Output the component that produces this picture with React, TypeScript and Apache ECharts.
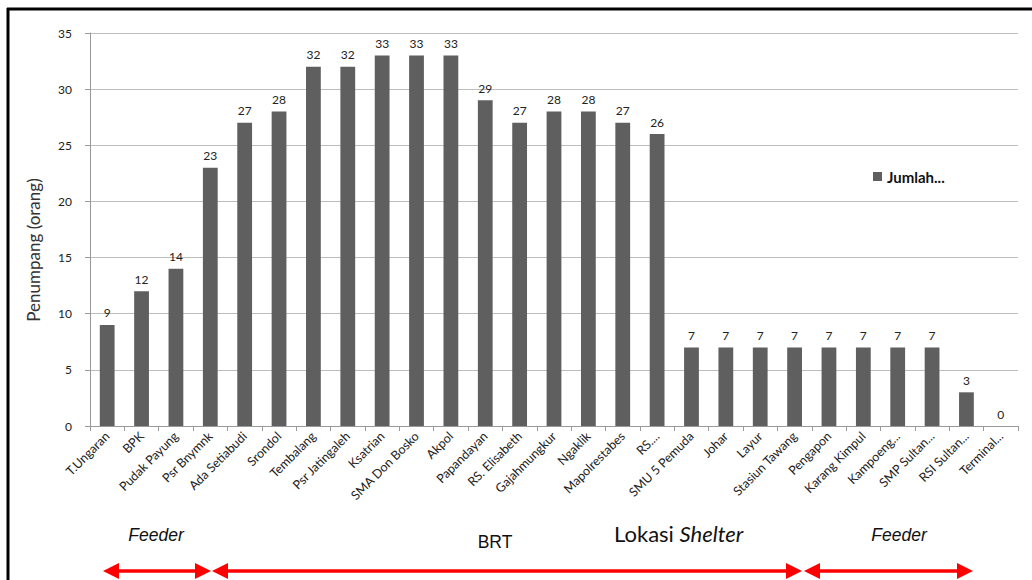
import React, { useEffect, useRef } from "react";
import * as echarts from "echarts";

const categories = [
  "T.Ungaran", "BPK", "Pudak Payung", "Psr Bnymnk", "Ada Setiabudi", "Srondol",
  "Tembalang", "Psr Jatingaleh", "Ksatrian", "SMA Don Bosko", "Akpol", "Papandayan",
  "RS. Elisabeth", "Gajahmungkur", "Ngaklik", "Mapolrestabes", "RS....", "SMU 5 Pemuda",
  "Johar", "Layur", "Stasiun Tawang", "Pengapon", "Karang Kimpul", "Kampoeng...",
  "SMP Sultan...", "RSI Sultan...", "Terminal...",
];
const jumlah = [9, 12, 14, 23, 27, 28, 32, 32, 33, 33, 33, 29, 27, 28, 28, 27, 26, 7, 7, 7, 7, 7, 7, 7, 7, 3, 0];
const yTicks = { min: 0, max: 35, interval: 5 };
const seriesName = "Jumlah...";
const yAxisTitle = "Penumpang (orang)";

const FONT = "Lato, 'Open Sans', sans-serif";
const RED = "#ff0000";

function arrow(x1: number, x2: number, y: number, both: boolean) {
  const hl = 16, hh = 8;
  const els: any[] = [
    { type: "line", shape: { x1: x1 + hl - 2, y1: y, x2: x2 - hl + 2, y2: y }, style: { stroke: RED, lineWidth: 3.5 } },
    { type: "polygon", shape: { points: [[x2, y], [x2 - hl, y - hh], [x2 - hl, y + hh]] }, style: { fill: RED } },
  ];
  if (both) {
    els.push({ type: "polygon", shape: { points: [[x1, y], [x1 + hl, y - hh], [x1 + hl, y + hh]] }, style: { fill: RED } });
  }
  return els;
}

export default function App() {
  const ref = useRef<HTMLDivElement>(null);
  useEffect(() => {
    if (!ref.current) return;
    const chart = echarts.init(ref.current, undefined, { renderer: "svg" });
    chart.setOption({
      animation: false,
      backgroundColor: "#ffffff",
      grid: { left: 90, right: 14, top: 33, bottom: 154 },
      legend: {
        show: true,
        left: 868,
        top: 164,
        itemWidth: 9,
        itemHeight: 9,
        itemGap: 4,
        icon: "rect",
        textStyle: { fontFamily: FONT, fontSize: 15, fontWeight: "bold", color: "#111" },
        data: [seriesName],
      },
      xAxis: {
        type: "category",
        data: categories,
        axisLine: { lineStyle: { color: "#9a9a9a", width: 1 } },
        axisTick: { show: true, alignWithLabel: false, length: 5, lineStyle: { color: "#9a9a9a" } },
        axisLabel: {
          interval: 0,
          rotate: 45,
          fontFamily: FONT,
          fontSize: 12.5,
          color: "#222",
          margin: 8,
        },
      },
      yAxis: {
        type: "value",
        min: yTicks.min,
        max: yTicks.max,
        interval: yTicks.interval,
        axisLine: { show: true, lineStyle: { color: "#9a9a9a" } },
        axisTick: { show: true, length: 5, lineStyle: { color: "#9a9a9a" } },
        splitLine: { lineStyle: { color: "#bdbdbd", width: 1 } },
        axisLabel: { fontFamily: FONT, fontSize: 12, color: "#222", margin: 18 },
      },
      series: [
        {
          name: seriesName,
          type: "bar",
          data: jumlah,
          barWidth: "43%",
          itemStyle: { color: "#5f5f5f" },
          label: {
            show: true,
            position: "top",
            distance: 6,
            fontFamily: FONT,
            fontSize: 12,
            color: "#222",
          },
        },
      ],
      graphic: [
        { type: "line", shape: { x1: 7, y1: 9, x2: 1032, y2: 9 }, style: { stroke: "#000", lineWidth: 3 } },
        { type: "line", shape: { x1: 8, y1: 8, x2: 8, y2: 580 }, style: { stroke: "#000", lineWidth: 3 } },
        {
          type: "text",
          x: 33,
          y: 250,
          rotation: Math.PI / 2,
          style: {
            text: yAxisTitle,
            fontFamily: FONT,
            fontSize: 17,
            fontWeight: "normal",
            fill: "#333",
            align: "center",
            verticalAlign: "middle",
          },
        },
        {
          type: "text", x: 156, y: 535,
          style: { text: "Feeder", fontFamily: "'Liberation Sans', Arial, sans-serif", fontStyle: "italic", fontSize: 17.5, fill: "#111", align: "center", verticalAlign: "middle" },
        },
        {
          type: "text", x: 495, y: 542,
          style: { text: "BRT", fontFamily: "'Liberation Sans', Arial, sans-serif", fontSize: 17.5, fill: "#111", align: "center", verticalAlign: "middle" },
        },
        {
          type: "text", x: 614, y: 533,
          style: {
            text: "{n|Lokasi }{i|Shelter}",
            verticalAlign: "middle",
            rich: {
              n: { fontFamily: FONT, fontSize: 22, fill: "#111", color: "#111" },
              i: { fontFamily: FONT, fontSize: 22, fontStyle: "italic", fill: "#111", color: "#111" },
            },
          },
        },
        {
          type: "text", x: 899, y: 535,
          style: { text: "Feeder", fontFamily: "'Liberation Sans', Arial, sans-serif", fontStyle: "italic", fontSize: 17.5, fill: "#111", align: "center", verticalAlign: "middle" },
        },
        ...arrow(103, 211, 571, true),
        ...arrow(212, 802, 571, true),
        ...arrow(804, 973, 571, true),
      ],
    });
    return () => chart.dispose();
  }, []);
  return (
    <div
      ref={ref}
      style={{ position: "fixed", left: 0, top: 0, width: 1032, height: 580 }}
    />
  );
}
